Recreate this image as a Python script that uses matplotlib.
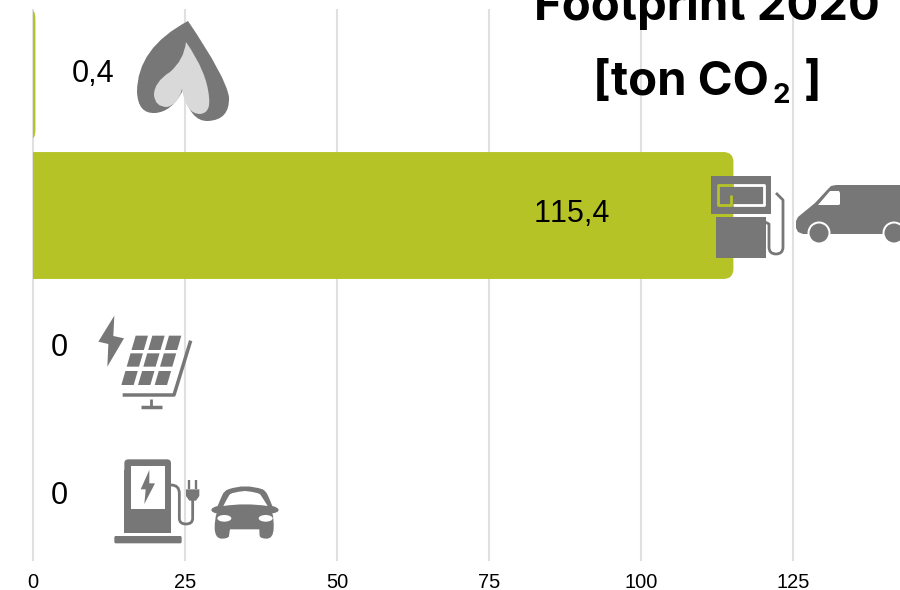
import matplotlib
matplotlib.use('Agg')
import matplotlib.pyplot as plt
from matplotlib.path import Path
from matplotlib.patches import PathPatch, Polygon, Circle, Ellipse, FancyBboxPatch, Rectangle

# Данные
values = [0.4, 115.2, 0, 0]
value_labels = ['0,4', '115,4', '0', '0']
label_x = [9.8, 88.65, 4.3, 4.3]
label_shift = [-1, -2, -8, -2]
x_ticks = [0, 25, 50, 75, 100, 125]

GREEN = '#b5c327'
GREY = '#777777'
W, H = 900, 590

plt.rcParams['font.family'] = ['Liberation Sans', 'DejaVu Sans']
plt.rcParams['text.kerning_factor'] = 6
fig = plt.figure(figsize=(W / 100, H / 100), dpi=100)

# Основная ось: 0 -> 33 px, 125 -> 793 px, ряды через 141 px
ax = fig.add_axes([33 / W, (H - 560) / H, (W - 33) / W, 550 / H])
ax.set_xlim(0, (W - 33) / 6.08)
ax.set_ylim((560 - 74.5) / 141, (10 - 74.5) / 141)
for s_ in ax.spines.values():
    s_.set_visible(False)
ax.set_xticks(x_ticks)
ax.set_yticks([])
ax.tick_params(axis='x', length=0, pad=9.5, labelsize=14.4)
ax.grid(axis='x', color='#e0e0e0', lw=1.5, clip_on=False)
ax.set_axisbelow(True)


# Столбик со скруглением справа
def round_bar(v, y, h=0.9):
    if v <= 0:
        return
    rx = min(10 / 6.08, v)
    ry = 10 / 141
    top, bot = y - h / 2, y + h / 2
    verts = [(0, top), (v - rx, top), (v, top), (v, top + ry), (v, bot - ry),
             (v, bot), (v - rx, bot), (0, bot), (0, top)]
    codes = [Path.MOVETO, Path.LINETO, Path.CURVE3, Path.CURVE3, Path.LINETO,
             Path.CURVE3, Path.CURVE3, Path.LINETO, Path.CLOSEPOLY]
    ax.add_patch(PathPatch(Path(verts, codes), fc=GREEN, ec='none', zorder=2))


for i, v in enumerate(values):
    round_bar(v, i)

# Верхний слой в пикселях: заголовок, подписи и значки
ov = fig.add_axes([0, 0, 1, 1], facecolor='none')
ov.set_xlim(0, W)
ov.set_ylim(H, 0)
ov.axis('off')

for i, lab in enumerate(value_labels):
    px = 33 + label_x[i] * 6.08
    ov.text(px, 74.5 + 141 * i + label_shift[i], lab, fontsize=22,
            ha='center', va='center', color='black')

title_font = ['Inter', 'DejaVu Sans']
ov.text(707, 20, 'Footprint 2020', fontsize=34, fontweight='bold', family=title_font,
        ha='center', va='baseline', color='black')
ov.text(593, 95, '[ton CO', fontsize=34, fontweight='bold', family=title_font,
        ha='left', va='baseline', color='black')
ov.text(781, 103, '2', fontsize=20, fontweight='bold', family=title_font,
        ha='center', va='baseline', color='black')
ov.text(812, 95, ']', fontsize=34, fontweight='bold', family=title_font,
        ha='center', va='baseline', color='black')


def curve(verts, fc):
    # только квадратичные сегменты: старт, затем пары (контроль, точка)
    codes = [Path.MOVETO] + [Path.CURVE3] * (len(verts) - 1)
    ov.add_patch(PathPatch(Path(verts, codes), fc=fc, ec='none'))


def line(points, color=GREY, lw=2.0):
    xs, ys = zip(*points)
    ov.plot(xs, ys, color=color, lw=lw, solid_capstyle='butt', solid_joinstyle='round')


def poly(points, fc=GREY):
    ov.add_patch(Polygon(points, closed=True, fc=fc, ec='none'))


# Пламя
curve([(188, 21), (137, 48), (137, 92), (138, 114), (155, 113), (172, 112), (183, 90),
       (190, 122), (208, 121), (230, 120), (229, 97), (226, 77), (188, 21)], GREY)
curve([(186, 42), (184, 60), (170, 72), (154, 82), (154, 95), (155, 107), (167, 107),
       (178, 105), (182, 89), (186, 114), (200, 114), (211, 113), (209, 97), (207, 72), (186, 42)],
      '#d9d9d9')

# Колонка АЗС
ov.add_patch(Rectangle((711, 176), 60, 38, fc=GREY, ec='none'))
ov.add_patch(Rectangle((716, 217), 49.5, 41, fc=GREY, ec='none'))
line([(733, 185), (764, 185), (764, 205), (733, 205)], 'white', 2.0)
line([(733, 185), (718, 185), (718, 205), (731, 205), (731, 195)], GREEN, 2.0)
line([(765, 222), (769, 224), (769, 232), (769, 247)], GREY, 2.0)
ov.add_patch(PathPatch(Path([(769, 247), (769, 254), (776, 254), (783, 254), (783, 247)],
                            [Path.MOVETO] + [Path.CURVE3] * 4), fc='none', ec=GREY, lw=2.0))
line([(783, 247), (783, 200), (776, 193)], GREY, 2.0)

# Фургон
poly([(836, 185), (905, 185), (905, 234), (803, 234), (798, 232), (796, 228), (796, 221), (798, 217),
      (815, 203), (828, 189), (831, 186)])
poly([(818, 205), (830, 191), (839, 191), (840, 193), (840, 204), (839, 205)], 'white')
for cx in (819, 894):
    ov.add_patch(Circle((cx, 233), 11.5, fc='white', ec='none'))
    ov.add_patch(Circle((cx, 233), 9.5, fc=GREY, ec='none'))


# Солнечная панель (координаты снимаем с увеличенного фрагмента)
def s(x, y):
    return 80 + x / 3, 300 + y / 3


poly([s(103, 47), s(55, 125), s(85, 132), s(82, 200), s(132, 115), s(100, 108)])
for r, (y0, y1) in enumerate([(107, 150), (160, 200), (213, 255)]):
    for k in range(3):
        xl = 167 + 50 * k
        poly([s(xl - 0.29 * (y0 - 107), y0), s(xl + 37 - 0.29 * (y0 - 107), y0),
              s(xl + 37 - 0.29 * (y1 - 107), y1), s(xl - 0.29 * (y1 - 107), y1)])
line([s(332, 122), s(282, 285), s(128, 285)], GREY, 2.5)
line([s(213, 297), s(213, 322)], GREY, 2.0)
line([s(183, 322), s(245, 322)], GREY, 2.5)


# Зарядка и автомобиль
def c(x, y):
    return 100 + x / 3, 450 + y / 3


ov.add_patch(FancyBboxPatch(c(73, 28), 140 / 3, 100 / 3, boxstyle='round,pad=0,rounding_size=4',
                            fc=GREY, ec='none'))
ov.add_patch(Rectangle(c(73, 60), 140 / 3, 190 / 3, fc=GREY, ec='none'))
ov.add_patch(Rectangle(c(93, 47), 102 / 3, 130 / 3, fc='white', ec='none'))
poly([c(148, 60), c(122, 118), c(137, 118), c(133, 162), c(165, 100), c(148, 100)])
ov.add_patch(FancyBboxPatch(c(43, 258), 202 / 3, 22 / 3, boxstyle='round,pad=0,rounding_size=1.5',
                            fc=GREY, ec='none'))
ov.add_patch(PathPatch(Path([c(213, 105), c(238, 105), c(238, 130), c(238, 205),
                             c(238, 222), c(258, 222), c(278, 222), c(278, 205), c(278, 150)],
                            [Path.MOVETO, Path.CURVE3, Path.CURVE3, Path.LINETO, Path.CURVE3,
                             Path.CURVE3, Path.CURVE3, Path.CURVE3, Path.LINETO]),
                       fc='none', ec=GREY, lw=2.0))
poly([c(258, 118), c(298, 118), c(298, 138), c(288, 152), c(268, 152), c(258, 138)])
line([c(268, 90), c(268, 118)], GREY, 1.7)
line([c(288, 90), c(288, 118)], GREY, 1.7)

# кузов: скругления крыши через кривые
car = [c(385, 118), c(435, 100), c(488, 118), c(497, 122), c(503, 135), c(510, 150), c(517, 168),
       c(535, 172), c(536, 180), c(535, 188), c(517, 190), c(522, 205), c(521, 235), c(520, 266),
       c(500, 266), c(482, 266), c(479, 258), c(478, 248), c(478, 238), c(435, 238), c(390, 238),
       c(388, 248), c(387, 258), c(385, 266), c(365, 266), c(345, 266), c(344, 235), c(344, 205),
       c(350, 190), c(335, 188), c(334, 180), c(335, 172), c(353, 168), c(360, 150), c(367, 135),
       c(372, 122), c(385, 118)]
curve(car, GREY)
curve([c(370, 168), c(380, 148), c(388, 135), c(392, 127), c(435, 123), c(478, 127), c(482, 135),
       c(492, 150), c(503, 168), c(435, 158), c(370, 168)], 'white')
ov.add_patch(Ellipse(c(373, 205), 42 / 3, 20 / 3, fc='white', ec='none'))
ov.add_patch(Ellipse(c(497, 205), 42 / 3, 20 / 3, fc='white', ec='none'))

fig.savefig('out.png', dpi=100)
